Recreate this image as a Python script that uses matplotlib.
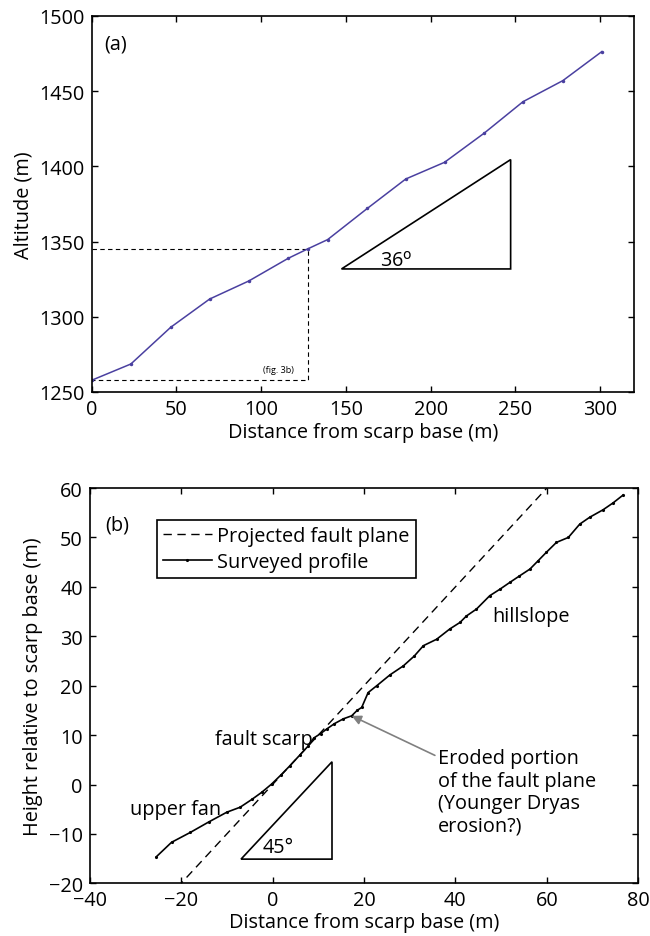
import matplotlib
matplotlib.use('Agg')
import matplotlib.pyplot as plt
from matplotlib.patches import Polygon

FS = 14.3
plt.rcParams['font.family'] = ['Open Sans', 'DejaVu Sans']
plt.rcParams['font.size'] = FS

# --- (a) long profile: distance vs altitude
dist_a = [0, 23.1, 46.6, 69.6, 92.7, 116.0, 127.4, 139.2, 162.7, 185.3, 208.2, 231.5, 254.5, 278.0, 301.0]
alt_a = [1257.8, 1268.6, 1293.0, 1311.8, 1323.8, 1338.9, 1345.1, 1351.3, 1372.1, 1391.6, 1402.7, 1422.0, 1443.0, 1457.0, 1476.3]

dist_b = [-25.4, -22.1, -18.0, -14.0, -10.0, -7.1, -4.5, -2.4, -0.2, 1.8, 3.8, 6.0, 7.8, 9.0,
          10.5, 11.8, 13.5, 15.5, 17.3, 18.5, 19.5, 20.9, 22.8, 25.7, 28.6, 31.0, 33.0, 35.9,
          38.8, 41.0, 42.4, 44.6, 47.5, 49.7, 51.9, 54.0, 56.3, 58.0, 59.9, 62.1, 64.7, 67.2,
          69.4, 72.3, 74.5, 76.7]
height_b = [-14.6, -11.7, -9.7, -7.6, -5.6, -4.6, -3.0, -1.6, 0.1, 1.9, 3.8, 6.0, 7.8, 9.4,
            10.3, 11.2, 12.3, 13.3, 13.9, 15.0, 15.6, 18.6, 20.0, 22.2, 24.0, 26.0, 28.1, 29.4,
            31.5, 32.8, 34.1, 35.5, 38.2, 39.5, 40.9, 42.2, 43.6, 45.2, 47.0, 49.0, 50.0, 52.7,
            54.1, 55.6, 57.0, 58.6]

# projected fault plane (45 deg through scarp base)
fault_x = [-25, 65]
fault_y = [-25, 65]

# slope triangles
tri_a = [(147.4, 1331.8), (247.2, 1331.8), (247.2, 1404.5)]
tri_b = [(-6.9, -15.1), (13.0, -15.1), (13.0, 4.6)]

# box for fig. 3b
box_x = [0, 127.4, 127.4, 0]
box_y = [1345.1, 1345.1, 1257.8, 1257.8]

fig = plt.figure(figsize=(6.5, 9.37), dpi=100)


def style(ax):
    ax.tick_params(direction='in', top=True, right=True, length=4, width=1, pad=5,
                   labelsize=FS)
    for s in ax.spines.values():
        s.set_linewidth(1.2)


### Sub-Plot (a)
ax = fig.add_axes([0.1411, 0.5806, 0.8343, 0.4013])
ax.plot(box_x, box_y, 'k--', lw=0.8, dashes=(4, 3))
ax.plot(dist_a, alt_a, '.-', color='#4a40a0', lw=1.1, ms=3)
ax.add_patch(Polygon(tri_a, closed=True, fill=False, ec='k', lw=1.2))
ax.text(170, 1334, '36$^{\\mathrm{o}}$', fontsize=FS)
ax.text(110, 1265, '(fig. 3b)', fontsize=6.5, ha='center', va='center')
ax.text(7.5, 1482, '(a)', fontsize=FS, va='center')
ax.set_xlim(0, 320)
ax.set_ylim(1250, 1500)
ax.set_xticks(range(0, 301, 50))
ax.set_yticks(range(1250, 1501, 50))
ax.set_xlabel('Distance from scarp base (m)', labelpad=2)
ax.set_ylabel('Altitude (m)', labelpad=4)
style(ax)

### Sub-Plot (b)
ax = fig.add_axes([0.138, 0.0562, 0.844, 0.4219])
ax.plot(fault_x, fault_y, 'k--', lw=1, dashes=(6, 4), label='Projected fault plane')
ax.plot(dist_b, height_b, 'k.-', lw=1.2, ms=2.5, label='Surveyed profile')
ax.add_patch(Polygon(tri_b, closed=True, fill=False, ec='k', lw=1.2))
ax.text(-2.2, -12.7, '45°', fontsize=FS, va='center')
ax.text(-36.6, 52.7, '(b)', fontsize=FS, va='center')
ax.text(-12.6, 9.2, 'fault scarp', fontsize=FS, va='center')
ax.text(-31.2, -5.0, 'upper fan', fontsize=FS, va='center')
ax.text(48, 34, 'hillslope', fontsize=FS, va='center')
ax.annotate('Eroded portion\nof the fault plane\n(Younger Dryas\nerosion?)',
            xy=(17.3, 13.9), xytext=(36.2, 7.3), fontsize=FS, va='top', ha='left',
            linespacing=1.15,
            arrowprops=dict(arrowstyle='-|>', color='#808080', lw=1.2,
                            shrinkA=0, shrinkB=0, mutation_scale=14,
                            relpos=(-0.02, 0.92)))
leg = ax.legend(loc='upper left', bbox_to_anchor=(0.122, 0.92), borderaxespad=0,
                fancybox=False, edgecolor='k', framealpha=1, handlelength=2.5,
                handletextpad=0.25, borderpad=0.3, labelspacing=0.3)
leg.get_frame().set_linewidth(1.2)
ax.set_xlim(-40, 80)
ax.set_ylim(-20, 60)
ax.set_xticks(range(-40, 81, 20))
ax.set_yticks(range(-20, 61, 10))
ax.set_xlabel('Distance from scarp base (m)', labelpad=1)
ax.set_ylabel('Height relative to scarp base (m)', labelpad=4)
style(ax)

plt.savefig('out.png', dpi=100)
